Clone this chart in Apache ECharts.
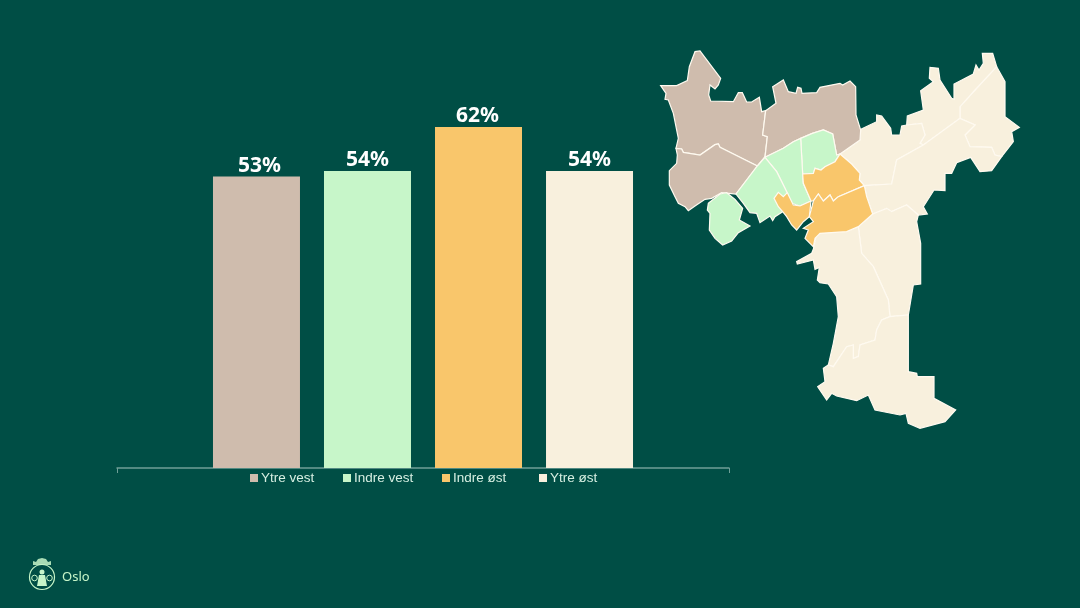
<!DOCTYPE html>
<html><head><meta charset="utf-8">
<script src="https://cdn.jsdelivr.net/npm/echarts@6/dist/echarts.min.js"></script>
<style>html,body{margin:0;padding:0;background:#004E45}#c{width:1080px;height:608px}</style>
</head><body><div id="c"></div>
<script>
const zones = ['Ytre vest','Indre vest','Indre øst','Ytre øst'];
const shares = [53,54,62,54];
const zoneColors = ['#CFBCAD','#C7F6C9','#F9C66B','#F8F0DD'];
const legendLeft = [250,343,442,539];
const labelShift = [3,0,-1,0];

const A = (x,y)=>[650+x/3,40+y/3];
const B = (x,y)=>[780+x/3,210+y/3];
const trace = (f,pts)=>pts.map(p=>f(p[0],p[1]));
const districts = [
 {name:'E',zone:3,ring:trace(A,[[1040,80],[1065,125],[1065,230],[1108,262],[1085,275],[1090,305],[1055,350],[1035,345],[1025,322],[960,320],[945,285],[975,255],[930,235],[930,200],[975,150]])},
 {name:'F',zone:3,ring:trace(A,[[1040,80],[1028,40],[997,40],[1000,70],[987,90],[978,75],[970,102],[912,132],[912,178],[905,175],[870,120],[865,85],[840,82],[838,115],[850,125],[812,152],[820,210],[772,228],[770,255],[815,250],[825,285],[810,310],[820,315],[930,235],[930,200],[975,150]])},
 {name:'D',zone:3,ring:trace(A,[[570,342],[630,300],[632,268],[680,245],[680,225],[695,228],[722,265],[725,285],[750,285],[755,258],[770,255],[815,250],[825,285],[810,310],[820,315],[740,360],[725,432],[643,437],[628,420],[630,400],[605,372]])},
 {name:'G',zone:3,ring:trace(A,[[820,315],[930,235],[975,255],[945,285],[960,320],[1025,322],[1035,345],[1055,350],[1025,392],[990,395],[962,352],[920,368],[905,400],[885,400],[885,452],[852,450],[820,500],[832,522],[805,525],[770,495],[725,515],[710,505],[668,522],[650,470],[643,437],[725,432],[740,360]])},
 {name:'H',zone:3,ring:trace(A,[[668,522],[710,505],[725,515],[770,495],[805,525],[800,545]]).concat(trace(B,[[422,100],[422,222],[400,225],[385,315],[330,320],[325,270],[280,170],[245,130]]),trace(A,[[625,560]]))},
 {name:'I',zone:3,ring:trace(A,[[625,560]]).concat(trace(B,[[245,130],[280,170],[325,270],[330,320],[305,330],[290,360],[285,390],[240,405],[235,440],[220,445],[220,405],[200,410],[160,470],[145,465],[160,400],[175,320],[170,260],[145,222],[120,218],[112,210],[118,172],[105,178],[100,150],[52,162],[50,155],[95,130],[100,118],[110,70],[200,60]]))},
 {name:'J',zone:3,ring:trace(B,[[385,315],[385,485],[410,490],[412,500],[462,500],[462,565],[527,600],[495,635],[420,655],[385,640],[378,610],[360,615],[285,600],[265,555],[230,572],[170,558],[155,550],[140,570],[113,530],[135,515],[130,475],[145,465],[160,470],[200,410],[220,405],[220,445],[235,440],[240,405],[285,390],[290,360],[305,330],[330,320]])},
 {name:'TA',zone:0,ring:trace(A,[[32,137],[80,137],[112,122],[118,80],[135,35],[150,33],[212,115],[205,135],[195,147],[180,135],[176,165],[182,183],[250,185],[265,158],[277,158],[290,186],[305,186],[328,172],[335,215],[347,212],[338,285],[352,290],[345,350],[322,378],[210,322],[205,312],[195,314],[150,345],[100,337],[95,327],[78,325],[85,295],[70,220],[55,180],[45,178],[48,160]])},
 {name:'TB',zone:0,ring:trace(A,[[78,325],[95,327],[100,337],[150,345],[195,314],[205,312],[210,322],[322,378],[258,462],[215,458],[185,475],[165,478],[135,498],[115,512],[105,500],[85,490],[75,470],[58,435],[58,392],[80,370],[82,345]])},
 {name:'TC',zone:0,ring:trace(A,[[347,212],[378,190],[368,140],[400,120],[415,155],[438,160],[443,142],[453,145],[456,160],[500,158],[510,142],[570,130],[578,135],[600,123],[617,140],[618,225],[632,270],[630,300],[570,342],[560,345],[548,282],[520,270],[487,280],[452,295],[430,305],[400,325],[345,352],[352,290],[338,285]])},
 {name:'GN',zone:1,ring:trace(A,[[452,295],[487,280],[520,270],[548,282],[560,345],[570,342],[555,365],[525,380],[513,390],[495,385],[490,400],[458,402]])},
 {name:'GM',zone:1,ring:trace(A,[[345,352],[400,325],[430,305],[452,295],[458,402],[460,430],[483,483],[450,498],[425,490],[410,455],[380,395]])},
 {name:'GS',zone:1,ring:trace(A,[[322,378],[345,352],[380,395],[410,455],[425,490],[398,515],[375,530],[368,542],[360,528],[330,548],[320,520],[300,518],[280,490],[258,462]])},
 {name:'GI',zone:1,ring:trace(A,[[175,490],[210,462],[230,458],[255,478],[278,505],[268,540],[300,558],[265,578],[245,603],[218,615],[195,595],[178,570],[180,520],[172,510]])},
 {name:'OW',zone:2,ring:trace(A,[[372,475],[385,457],[400,470],[412,458],[430,495],[450,498],[483,483],[478,530],[460,545],[440,570],[425,555],[410,530],[398,515],[385,500]])},
 {name:'OU',zone:2,ring:trace(A,[[570,342],[605,372],[630,400],[628,420],[643,437],[565,470],[550,483],[540,465],[520,483],[505,462],[490,483],[483,483],[460,430],[458,402],[490,400],[495,385],[513,390],[525,380],[555,365]])},
 {name:'OL',zone:2,ring:trace(A,[[643,437],[650,470],[668,522],[625,560],[590,575],[510,580],[495,595],[490,620],[465,595],[475,570],[460,565],[490,545],[478,530],[490,483],[505,462],[520,483],[540,465],[550,483],[565,470]])}
];

echarts.registerMap('oslo',{type:'FeatureCollection',features:districts.map(d=>({
  type:'Feature',properties:{name:d.name},
  geometry:{type:'Polygon',coordinates:[d.ring.concat([d.ring[0]])]}
}))});
const all = districts.flatMap(d=>d.ring);
const xs = all.map(p=>p[0]), ys = all.map(p=>p[1]);
const bx = Math.min(...xs), by = Math.min(...ys), bw = Math.max(...xs)-bx, bh = Math.max(...ys)-by;

const chart = echarts.init(document.getElementById('c'),null,{renderer:'canvas'});
const axisText = '#D6EFE2';
const logo = '#C7F6C9';
chart.setOption({
  animation:false,
  backgroundColor:'#004E45',
  grid:{left:117,right:351,top:83,bottom:140},
  xAxis:{type:'category',data:[''],
    axisLine:{lineStyle:{color:'#6F9F97',width:1.5}},
    axisTick:{show:true,length:5,lineStyle:{color:'#6F9F97'}},
    axisLabel:{show:false},splitLine:{show:false}},
  yAxis:{type:'value',min:0,max:70,show:false,splitLine:{show:false}},
  legend:zones.map((z,i)=>({
    data:[{name:z,icon:'rect'}],left:legendLeft[i],top:471,padding:0,
    itemWidth:8,itemHeight:8,selectedMode:false,
    textStyle:{color:axisText,fontFamily:'"Liberation Sans",Arial,sans-serif',fontSize:13.5,padding:[0,0,0,-2]}
  })),
  series:zones.map((z,i)=>({
    type:'bar',name:z,data:[shares[i]],barWidth:87,barGap:'27.6%',
    itemStyle:{color:zoneColors[i]},
    label:{show:true,position:'top',distance:0,offset:[labelShift[i],0],formatter:'{c}%',color:'#FFFFFF',
      fontFamily:'"Noto Sans",sans-serif',fontWeight:'bold',fontSize:21}
  })).concat([{
    type:'map',map:'oslo',silent:true,aspectScale:1,showLegendSymbol:false,
    projection:{project:p=>p,unproject:p=>p},
    left:bx,top:by,width:bw,height:bh,
    label:{show:false},
    itemStyle:{borderColor:'#FFFAF0',borderWidth:1.2},
    data:districts.map(d=>({name:d.name,value:shares[d.zone],itemStyle:{areaColor:zoneColors[d.zone]}}))
  }]),
  graphic:[
    {type:'circle',shape:{cx:42,cy:577,r:12.5},style:{fill:'none',stroke:logo,lineWidth:1.2}},
    {type:'circle',shape:{cx:42,cy:572,r:2.5},style:{fill:logo}},
    {type:'polygon',shape:{points:[[39,575],[45,575],[47,586],[37,586]]},style:{fill:logo}},
    {type:'circle',shape:{cx:34.5,cy:578,r:2.8},style:{fill:'none',stroke:logo,lineWidth:1}},
    {type:'circle',shape:{cx:49.5,cy:578,r:2.8},style:{fill:'none',stroke:logo,lineWidth:1}},
    {type:'polygon',shape:{points:[[33,565],[33,561],[36,562],[38,559],[42,558],[46,559],[48,562],[51,561],[51,565]]},style:{fill:logo,opacity:0.85}},
    {type:'text',x:62,y:577,style:{text:'Oslo',fill:logo,font:'13px "Noto Sans",sans-serif',verticalAlign:'middle'}}
  ]
});
</script></body></html>
